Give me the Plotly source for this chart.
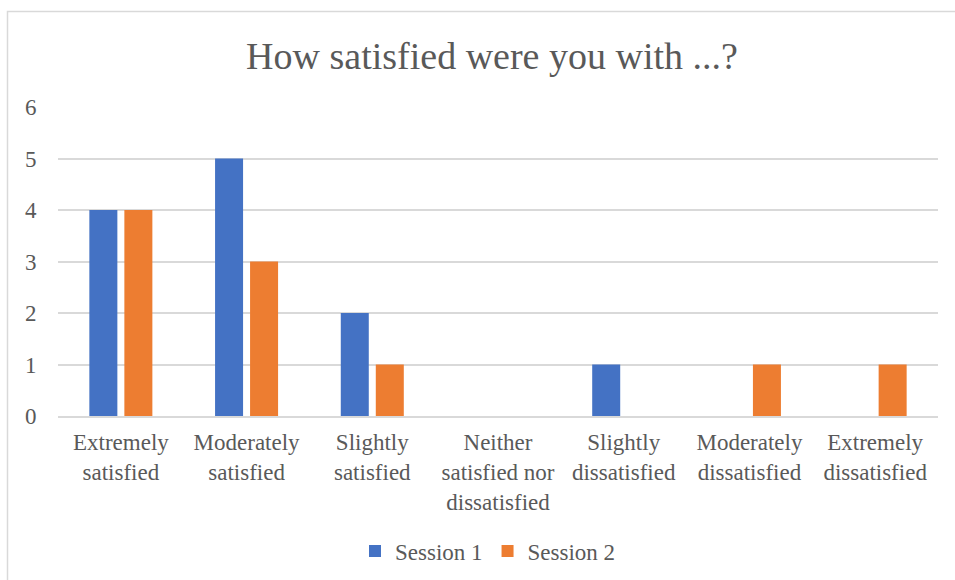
import plotly.graph_objects as go

categories = [
    "Extremely<br>satisfied",
    "Moderately<br>satisfied",
    "Slightly<br>satisfied",
    "Neither<br>satisfied nor<br>dissatisfied",
    "Slightly<br>dissatisfied",
    "Moderately<br>dissatisfied",
    "Extremely<br>dissatisfied",
]
session1 = [4, 5, 2, 0, 1, 0, 0]
session2 = [4, 3, 1, 0, 0, 1, 1]
y_ticks = [0, 1, 2, 3, 4, 5, 6]

FONT = "Liberation Serif"
TEXT = "#595959"
GRID = "#d9d9d9"

fig = go.Figure()
fig.add_trace(go.Bar(name="Session 1", x=categories, y=session1,
                     marker=dict(color="#4472C4", line=dict(width=0))))
fig.add_trace(go.Bar(name="Session 2", x=categories, y=session2,
                     marker=dict(color="#ED7D31", line=dict(width=0))))

W, H = 955, 580
ml, mr, mt, mb = 58, 17, 107, 164
pw, ph = W - ml - mr, H - mt - mb

def px_x(p):
    return (p - ml) / pw

def px_y(p):
    return (H - mb - p) / ph

fig.update_layout(
    width=W,
    height=H,
    margin=dict(l=ml, r=mr, t=mt, b=mb, autoexpand=False),
    paper_bgcolor="white",
    plot_bgcolor="white",
    font=dict(family=FONT, color=TEXT, size=23),
    title=dict(
        text="How satisfied were you with ...?",
        x=px_x(492), xref="paper", xanchor="center",
        y=1 - 56 / H, yanchor="middle",
        font=dict(size=38, color=TEXT, family=FONT),
    ),
    barmode="group",
    bargap=0.443,
    bargroupgap=0.2,
    showlegend=True,
    legend=dict(
        orientation="h",
        x=px_x(488), xanchor="center",
        y=px_y(551), yanchor="middle",
        font=dict(size=23, color=TEXT, family=FONT),
        itemwidth=30,
    ),
    xaxis=dict(
        showgrid=False,
        showline=True,
        linecolor=GRID,
        linewidth=1.5,
        layer="above traces",
        ticks="",
        ticklabelstandoff=5,
        automargin=False,
        tickfont=dict(size=23, color=TEXT, family=FONT),
    ),
    yaxis=dict(
        range=[0, 6],
        tickvals=y_ticks,
        showgrid=True,
        gridcolor=GRID,
        gridwidth=1.5,
        zeroline=False,
        showline=False,
        ticks="outside",
        ticklen=16,
        tickcolor="rgba(0,0,0,0)",
        automargin=False,
        tickfont=dict(size=23, color=TEXT, family=FONT),
    ),
    shapes=[
        dict(
            type="rect", xref="paper", yref="paper",
            x0=px_x(7.5), x1=px_x(970), y0=px_y(600), y1=px_y(11.5),
            line=dict(color=GRID, width=1.5), fillcolor="rgba(0,0,0,0)",
            layer="below",
        )
    ],
)

fig.write_html("out.html")
